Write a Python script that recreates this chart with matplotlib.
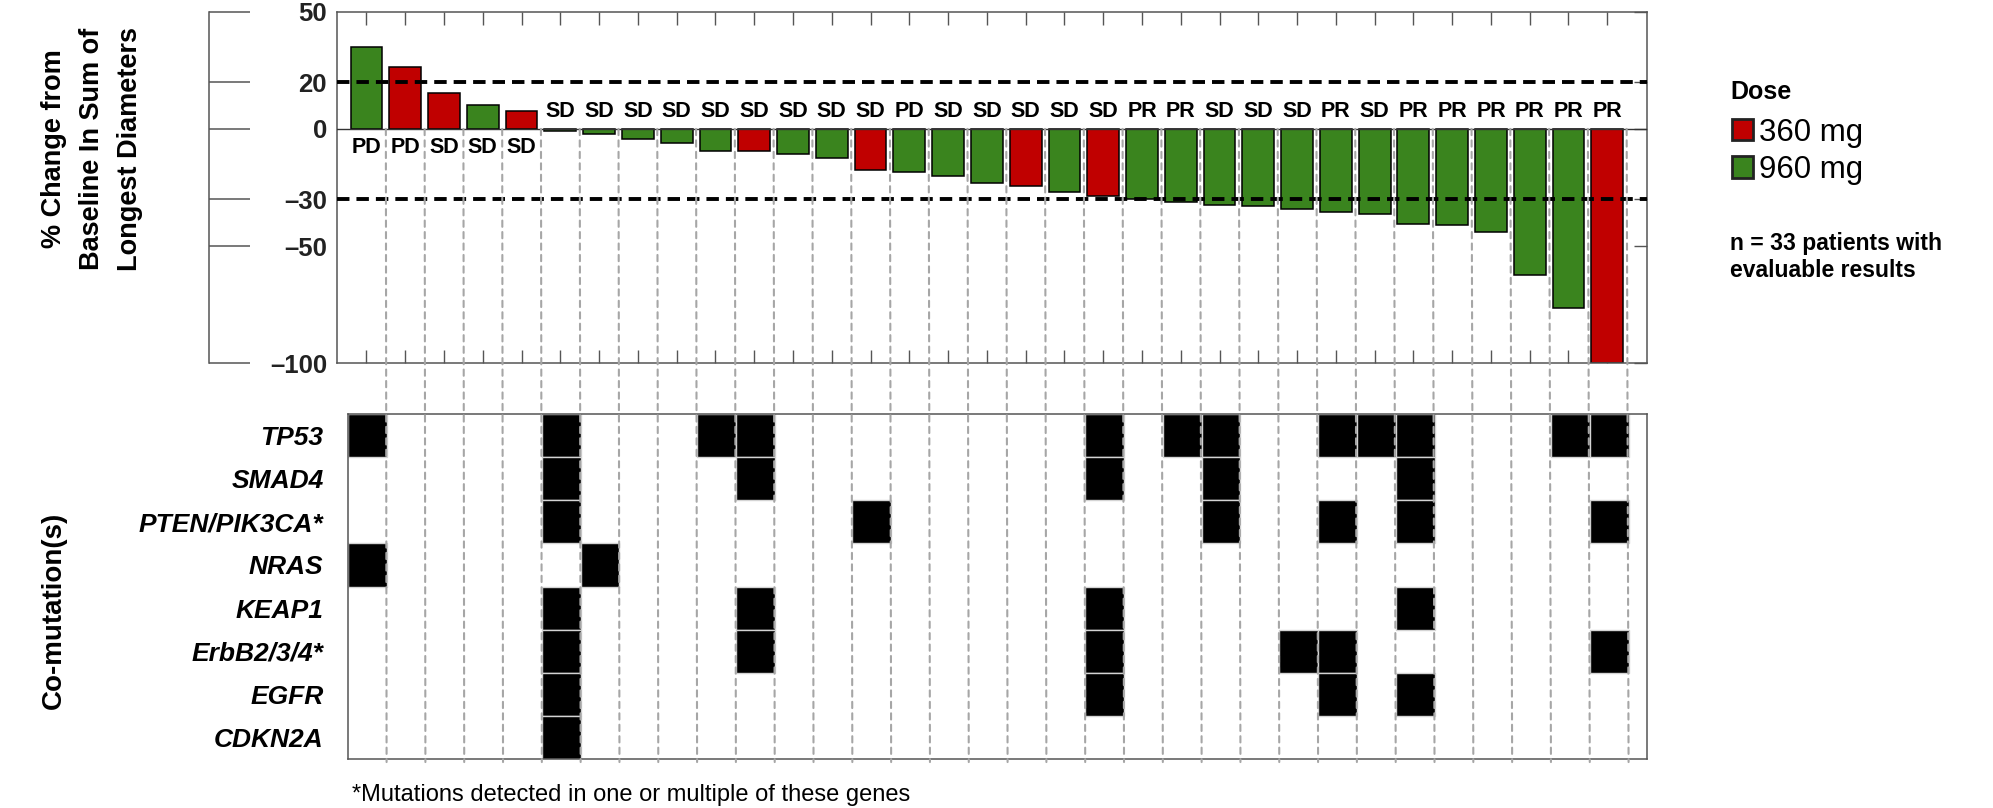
import matplotlib
matplotlib.use('Agg')
import matplotlib.pyplot as plt
from matplotlib.patches import Patch, ConnectionPatch

plt.rcParams['font.family'] = ['Liberation Sans', 'DejaVu Sans']

# best % change from baseline per patient, sorted
change = [35, 26.5, 15.5, 10, 7.5, -1, -2, -4.5, -6, -9.5,
          -9.5, -10.5, -12.5, -17.5, -18.5, -20, -23, -24.5, -27, -28.5,
          -30, -31, -32.5, -33, -34, -35.5, -36.5, -40.5, -41, -44,
          -62.5, -76.5, -100]
dose = [960, 360, 360, 960, 360, 960, 960, 960, 960, 960,
        360, 960, 960, 360, 960, 960, 960, 360, 960, 360,
        960, 960, 960, 960, 960, 960, 960, 960, 960, 960,
        960, 960, 360]
response = ['PD', 'PD', 'SD', 'SD', 'SD', 'SD', 'SD', 'SD', 'SD', 'SD',
            'SD', 'SD', 'SD', 'SD', 'PD', 'SD', 'SD', 'SD', 'SD', 'SD',
            'PR', 'PR', 'SD', 'SD', 'SD', 'PR', 'SD', 'PR', 'PR', 'PR',
            'PR', 'PR', 'PR']

# patients (by position) carrying each co-mutation
genes = ['TP53', 'SMAD4', 'PTEN/PIK3CA*', 'NRAS', 'KEAP1', 'ErbB2/3/4*', 'EGFR', 'CDKN2A']
tp53 = [0, 5, 9, 10, 19, 21, 22, 25, 26, 27, 31, 32]
smad4 = [5, 10, 19, 22, 27]
pten_pik3ca = [5, 13, 22, 25, 27, 32]
nras = [0, 6]
keap1 = [5, 10, 19, 27]
erbb = [5, 10, 19, 24, 25, 32]
egfr = [5, 19, 25, 27]
cdkn2a = [5]
mutated = [tp53, smad4, pten_pik3ca, nras, keap1, erbb, egfr, cdkn2a]

yticks = [50, 20, 0, -30, -50, -100]
yticklabels = ['50', '20', '0', '\u201330', '\u201350', '\u2013100']

red = '#c00000'
green = '#3a841e'
grey = '#555555'
dose_color = {360: red, 960: green}

n = len(change)
x = list(range(n))

fig = plt.figure(figsize=(19.93, 8.08), dpi=100)
ax = fig.add_axes([0.1689, 0.5504, 0.8263 - 0.1689, 0.9855 - 0.5504])
hm = fig.add_axes([0.1745, 0.0606, 0.8263 - 0.1745, 0.4876 - 0.0606])

# ---- waterfall ----
ax.bar(x, change, width=0.82, color=[dose_color[d] for d in dose],
       edgecolor='black', linewidth=1.1, zorder=2)
ax.axhline(0, color='#333333', lw=1.0, zorder=3)
for ref in (20, -30):
    ax.axhline(ref, color='black', lw=2.8, ls=(0, (3.2, 1.8)), zorder=4)

for i, (v, r) in enumerate(zip(change, response)):
    ypos = -8 if v > 0 else 7.3
    ax.text(i, ypos, r, ha='center', va='center', fontsize=15.5,
            fontweight='bold', color='black')

ax.set_xlim(-0.77, n + 0.02)
ax.set_ylim(-100, 50)
ax.set_xticks(x)
ax.set_yticks(yticks)
ax.set_yticklabels(yticklabels)
ax.tick_params(axis='x', top=True, bottom=True, direction='in', length=9.4,
               width=1.0, color=grey, labelbottom=False)
ax.tick_params(axis='y', left=False, right=True, direction='in', length=9.4,
               width=1.0, color=grey, pad=7, labelsize=18.5, labelcolor='#222222')
for lab in ax.get_yticklabels():
    lab.set_fontweight('bold')
for s in ax.spines.values():
    s.set_color(grey)
    s.set_linewidth(1.1)

# detached scale on the far left
sec = ax.secondary_yaxis(-0.0975)
sec.set_yticks(yticks)
sec.tick_params(direction='in', length=29.5, width=1.1, color=grey, labelleft=False)
sec.spines['left'].set_color(grey)
sec.spines['left'].set_linewidth(1.1)

# ---- co-mutation grid ----
for row, cols in enumerate(mutated):
    hm.bar(cols, [1] * len(cols), bottom=row, width=1.0, color='black',
           edgecolor='#d4d4d4', linewidth=1.0, align='center')
hm.set_xlim(-0.5, n - 0.03)
hm.set_ylim(len(genes), 0)
hm.set_xticks([])
hm.set_yticks([r + 0.5 for r in range(len(genes))])
hm.set_yticklabels(genes, fontsize=19, fontweight='bold', fontstyle='italic')
hm.tick_params(axis='y', length=0, pad=17.5)
for s in hm.spines.values():
    s.set_color(grey)
    s.set_linewidth(1.1)

# column separators running from the zero line through the grid
for i in range(n):
    cp = ConnectionPatch(xyA=(i + 0.5, 0), coordsA=ax.transData,
                         xyB=(i + 0.5, len(genes) + 0.07), coordsB=hm.transData,
                         color='#a6a6a6', lw=1.5, ls=(0, (3, 2.5)))
    fig.add_artist(cp)

# ---- labels ----
fig.text(0.046, 0.8156, '% Change from\nBaseline In Sum of\nLongest Diameters',
         rotation=90, ha='center', va='center', multialignment='center',
         fontsize=19.5, fontweight='bold', linespacing=1.6)
fig.text(0.027, 0.245, 'Co-mutation(s)', rotation=90, ha='center', va='center',
         fontsize=20, fontweight='bold')
fig.text(0.1765, 0.016, '*Mutations detected in one or multiple of these genes',
         ha='left', va='center', fontsize=17)

fig.text(0.868, 0.8865, 'Dose', ha='left', va='center', fontsize=18, fontweight='bold')
handles = [Patch(facecolor=red, edgecolor='#222222', linewidth=2),
           Patch(facecolor=green, edgecolor='#222222', linewidth=2)]
fig.legend(handles, ['360 mg', '960 mg'], loc='upper left',
           bbox_to_anchor=(0.869, 0.8545), frameon=False, fontsize=22.5,
           handlelength=0.68, handleheight=0.68, handletextpad=0.2,
           labelspacing=0.24, borderaxespad=0, borderpad=0)
fig.text(0.868, 0.682, 'n = 33 patients with\nevaluable results', ha='left',
         va='center', fontsize=16.5, fontweight='bold', linespacing=1.2)

fig.savefig('out.png', dpi=100)
